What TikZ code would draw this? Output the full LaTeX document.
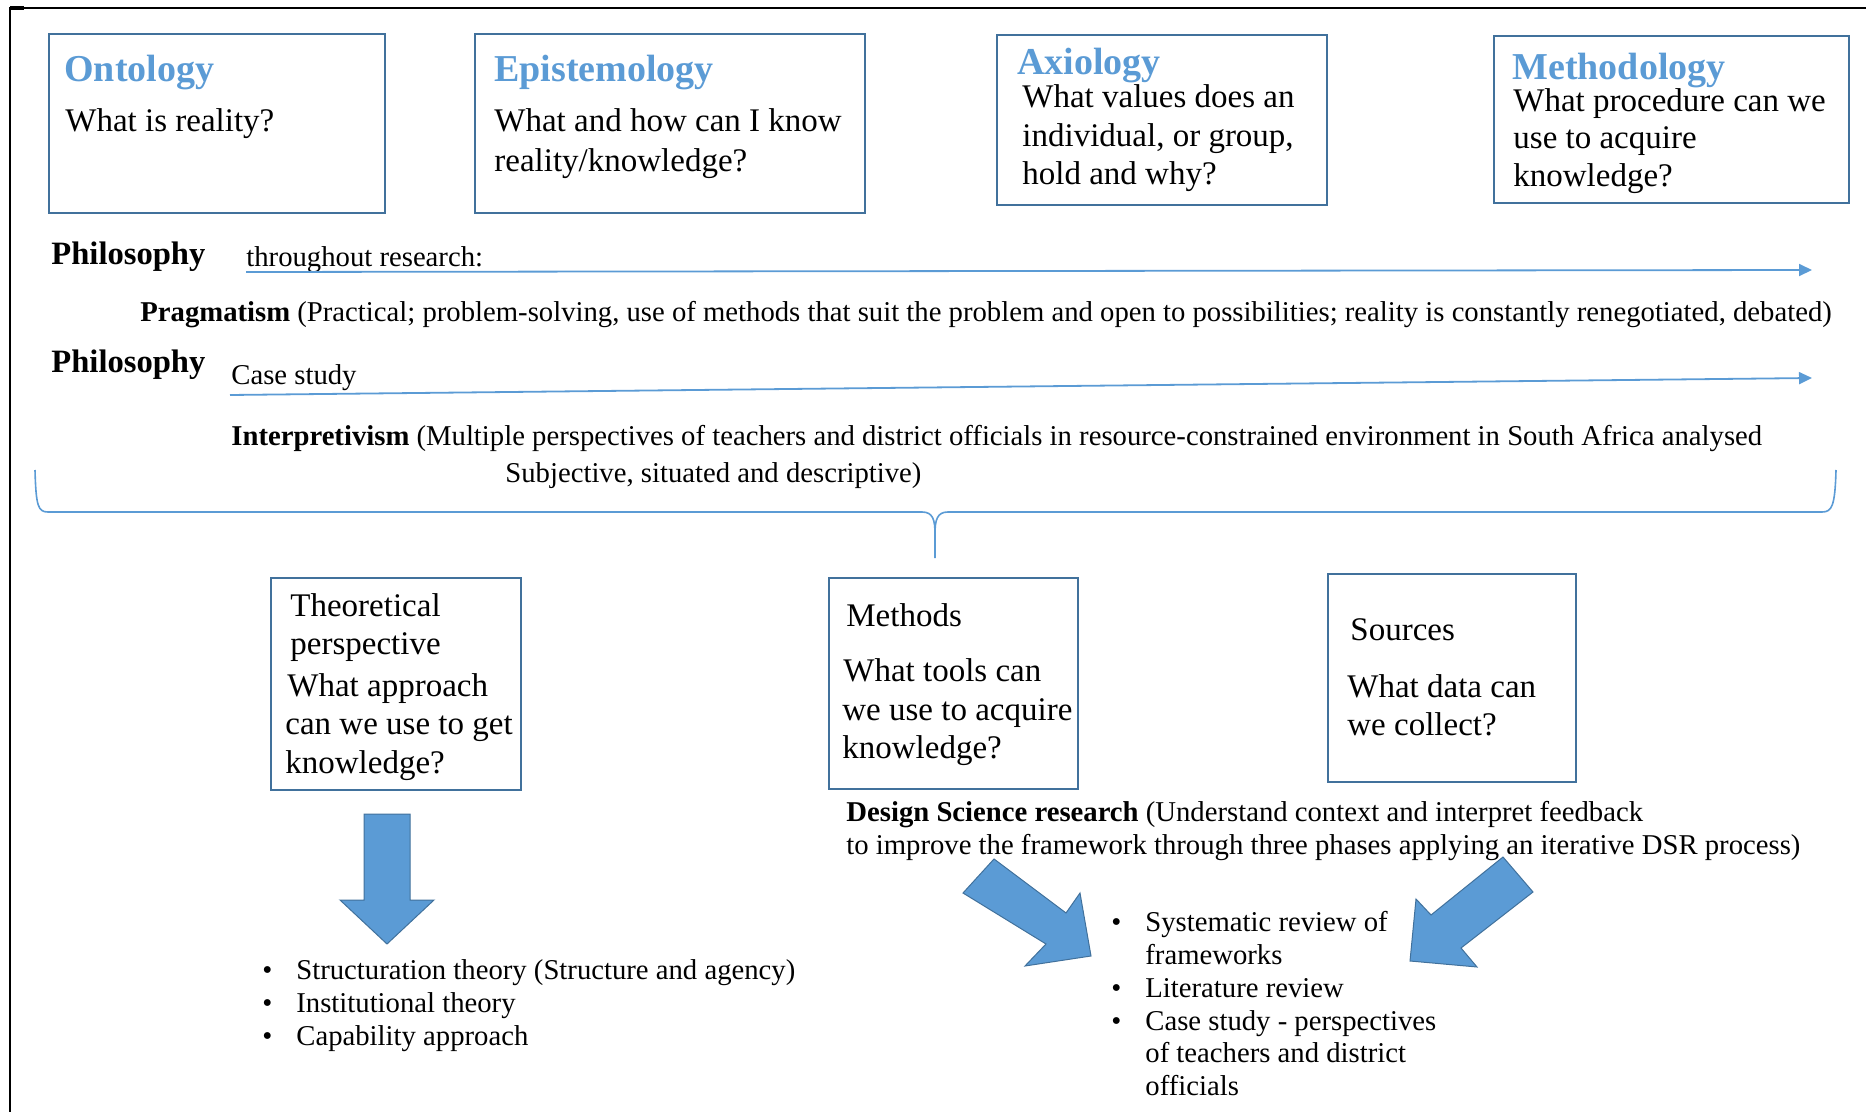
\documentclass[tikz,border=0pt]{standalone}
\usepackage{fontspec}
\setmainfont{Liberation Serif}
\usetikzlibrary{arrows.meta,fit}
\definecolor{headblue}{HTML}{5B9BD5}
\definecolor{boxblue}{HTML}{41719C}
\definecolor{lineblue}{HTML}{5B9BD5}
\definecolor{fillblue}{HTML}{5B9BD5}
\tikzset{
  qbox/.style={draw=boxblue, line width=1.2pt, inner sep=0pt},
  head/.style={text=headblue, font=\fontsize{19}{23}\selectfont\bfseries, anchor=base west, inner sep=0pt},
  body/.style={font=\fontsize{16.5}{20}\selectfont, anchor=base west, inner sep=0pt},
  phil/.style={font=\fontsize{16.3}{20}\selectfont\bfseries, anchor=base west, inner sep=0pt},
  small/.style={font=\fontsize{14.35}{17}\selectfont, anchor=base west, inner sep=0pt},
  timeline/.style={draw=lineblue, line width=0.9pt, -{Triangle[length=6.5pt,width=6pt]}},
  blockarrow/.style={fill=fillblue, draw=boxblue, line width=0.5pt, line join=miter},
}
\begin{document}
\begin{tikzpicture}[x=0.5pt, y=-0.5pt]
\useasboundingbox (0,0) rectangle (1868,1112);
% frame edges
\draw[line width=1pt] (10,1112) -- (10,8) -- (1866,8);
\draw[line width=2pt] (10,8) -- (24,8);

% top question boxes
\node[qbox, fit={(49,34) (385,213)}] (onto) {};
\node[head] (ontoH) at (64,82) {Ontology};
\node[body] (ontoT) at (65,132) {What is reality?};

\node[qbox, fit={(475,34) (865,213)}] (epis) {};
\node[head] (episH) at (494,82) {Epistemology};
\node[body] (episT1) at (494,132) {What and how can I know};
\node[body] (episT2) at (494,172) {reality/knowledge?};

\node[qbox, fit={(997,35) (1327,205)}] (axio) {};
\node[head] (axioH) at (1017,75) {Axiology};
\node[body] (axioT1) at (1022,108) {What values does an};
\node[body] (axioT2) at (1022,147) {individual, or group,};
\node[body] (axioT3) at (1022,185) {hold and why?};

\node[qbox, fit={(1494,36) (1849,203)}] (meth) {};
\node[head] (methH) at (1512,80) {Methodology};
\node[body] (methT1) at (1513,112) {What procedure can we};
\node[body] (methT2) at (1513,149) {use to acquire};
\node[body] (methT3) at (1513,187) {knowledge?};

% philosophy rows
\node[phil] (phil1) at (51,265) {Philosophy};
\node[small] (thr) at (246,267) {throughout research:};
\coordinate (tl1s) at (246,272);
\coordinate (tl1e) at (1812,270);
\draw[timeline] (tl1s) -- (tl1e);
\node[small] (prag) at (140,322) {\textbf{Pragmatism} (Practical; problem-solving, use of methods that suit the problem and open to possibilities; reality is constantly renegotiated, debated)};

\node[phil] (phil2) at (51,373) {Philosophy};
\node[small] (case) at (231,385) {Case study};
\coordinate (tl2s) at (230,395);
\coordinate (tl2e) at (1812,378);
\draw[timeline] (tl2s) -- (tl2e);
\node[small] (interp1) at (231,445) {\textbf{Interpretivism} (Multiple perspectives of teachers and district officials in resource-constrained environment in South Africa analysed};
\node[small] (interp2) at (505,482) {Subjective, situated and descriptive)};

% brace
\draw[lineblue, line width=0.8pt]
  (35,470) .. controls (36,506) and (38,512) .. (48,512) -- (922,512)
  .. controls (933,512) and (935,520) .. (935,534) -- (935,558)
  (935,534) .. controls (935,520) and (937,512) .. (948,512) -- (1822,512)
  .. controls (1832,512) and (1835,506) .. (1836,470);

% lower boxes
\node[qbox, fit={(271,578) (521,790)}] (theo) {};
\node[body] (theoT1) at (290,616) {Theoretical};
\node[body] (theoT2) at (290,654) {perspective};
\node[body] (theoT3) at (287,696) {What approach};
\node[body] (theoT4) at (285,734) {can we use to get};
\node[body] (theoT5) at (285,773) {knowledge?};

\node[qbox, fit={(829,578) (1078,789)}] (mtds) {};
\node[body] (mtdsT1) at (846,626) {Methods};
\node[body] (mtdsT2) at (843,681) {What tools can};
\node[body] (mtdsT3) at (842,720) {we use to acquire};
\node[body] (mtdsT4) at (842,758) {knowledge?};

\node[qbox, fit={(1328,574) (1576,782)}] (srcs) {};
\node[body] (srcsT1) at (1350,640) {Sources};
\node[body] (srcsT2) at (1347,697) {What data can};
\node[body] (srcsT3) at (1347,735) {we collect?};

\node[small] (dsr1) at (846,821) {\textbf{Design Science research} (Understand context and interpret feedback};
\node[small] (dsr2) at (846,854) {to improve the framework through three phases applying an iterative DSR process)};

% block arrows
\draw[blockarrow] (364,814) -- (410,814) -- (410,900) -- (434,900) -- (387,944) -- (340,900) -- (364,900) -- cycle;
\draw[blockarrow] (994,859) -- (1066,913) -- (1080,893) -- (1091,956) -- (1025,966) -- (1046,944) -- (963,893) -- cycle;
\draw[blockarrow] (1503,857) -- (1533,892) -- (1461,948) -- (1477,967) -- (1410,961) -- (1416,899) -- (1431,915) -- cycle;

% theory list
\node[small] (b1) at (262,979) {•};
\node[small] (l1) at (296,979) {Structuration theory (Structure and agency)};
\node[small] (b2) at (262,1012) {•};
\node[small] (l2) at (296,1012) {Institutional theory};
\node[small] (b3) at (262,1045) {•};
\node[small] (l3) at (296,1045) {Capability approach};

% sources list
\node[small] (c1) at (1111,931) {•};
\node[small] (m1) at (1145,931) {Systematic review of};
\node[small] (m1b) at (1145,964) {frameworks};
\node[small] (c2) at (1111,997) {•};
\node[small] (m2) at (1145,997) {Literature review};
\node[small] (c3) at (1111,1030) {•};
\node[small] (m3) at (1145,1030) {Case study - perspectives};
\node[small] (m3b) at (1145,1062) {of teachers and district};
\node[small] (m3c) at (1145,1095) {officials};
\end{tikzpicture}
\end{document}
